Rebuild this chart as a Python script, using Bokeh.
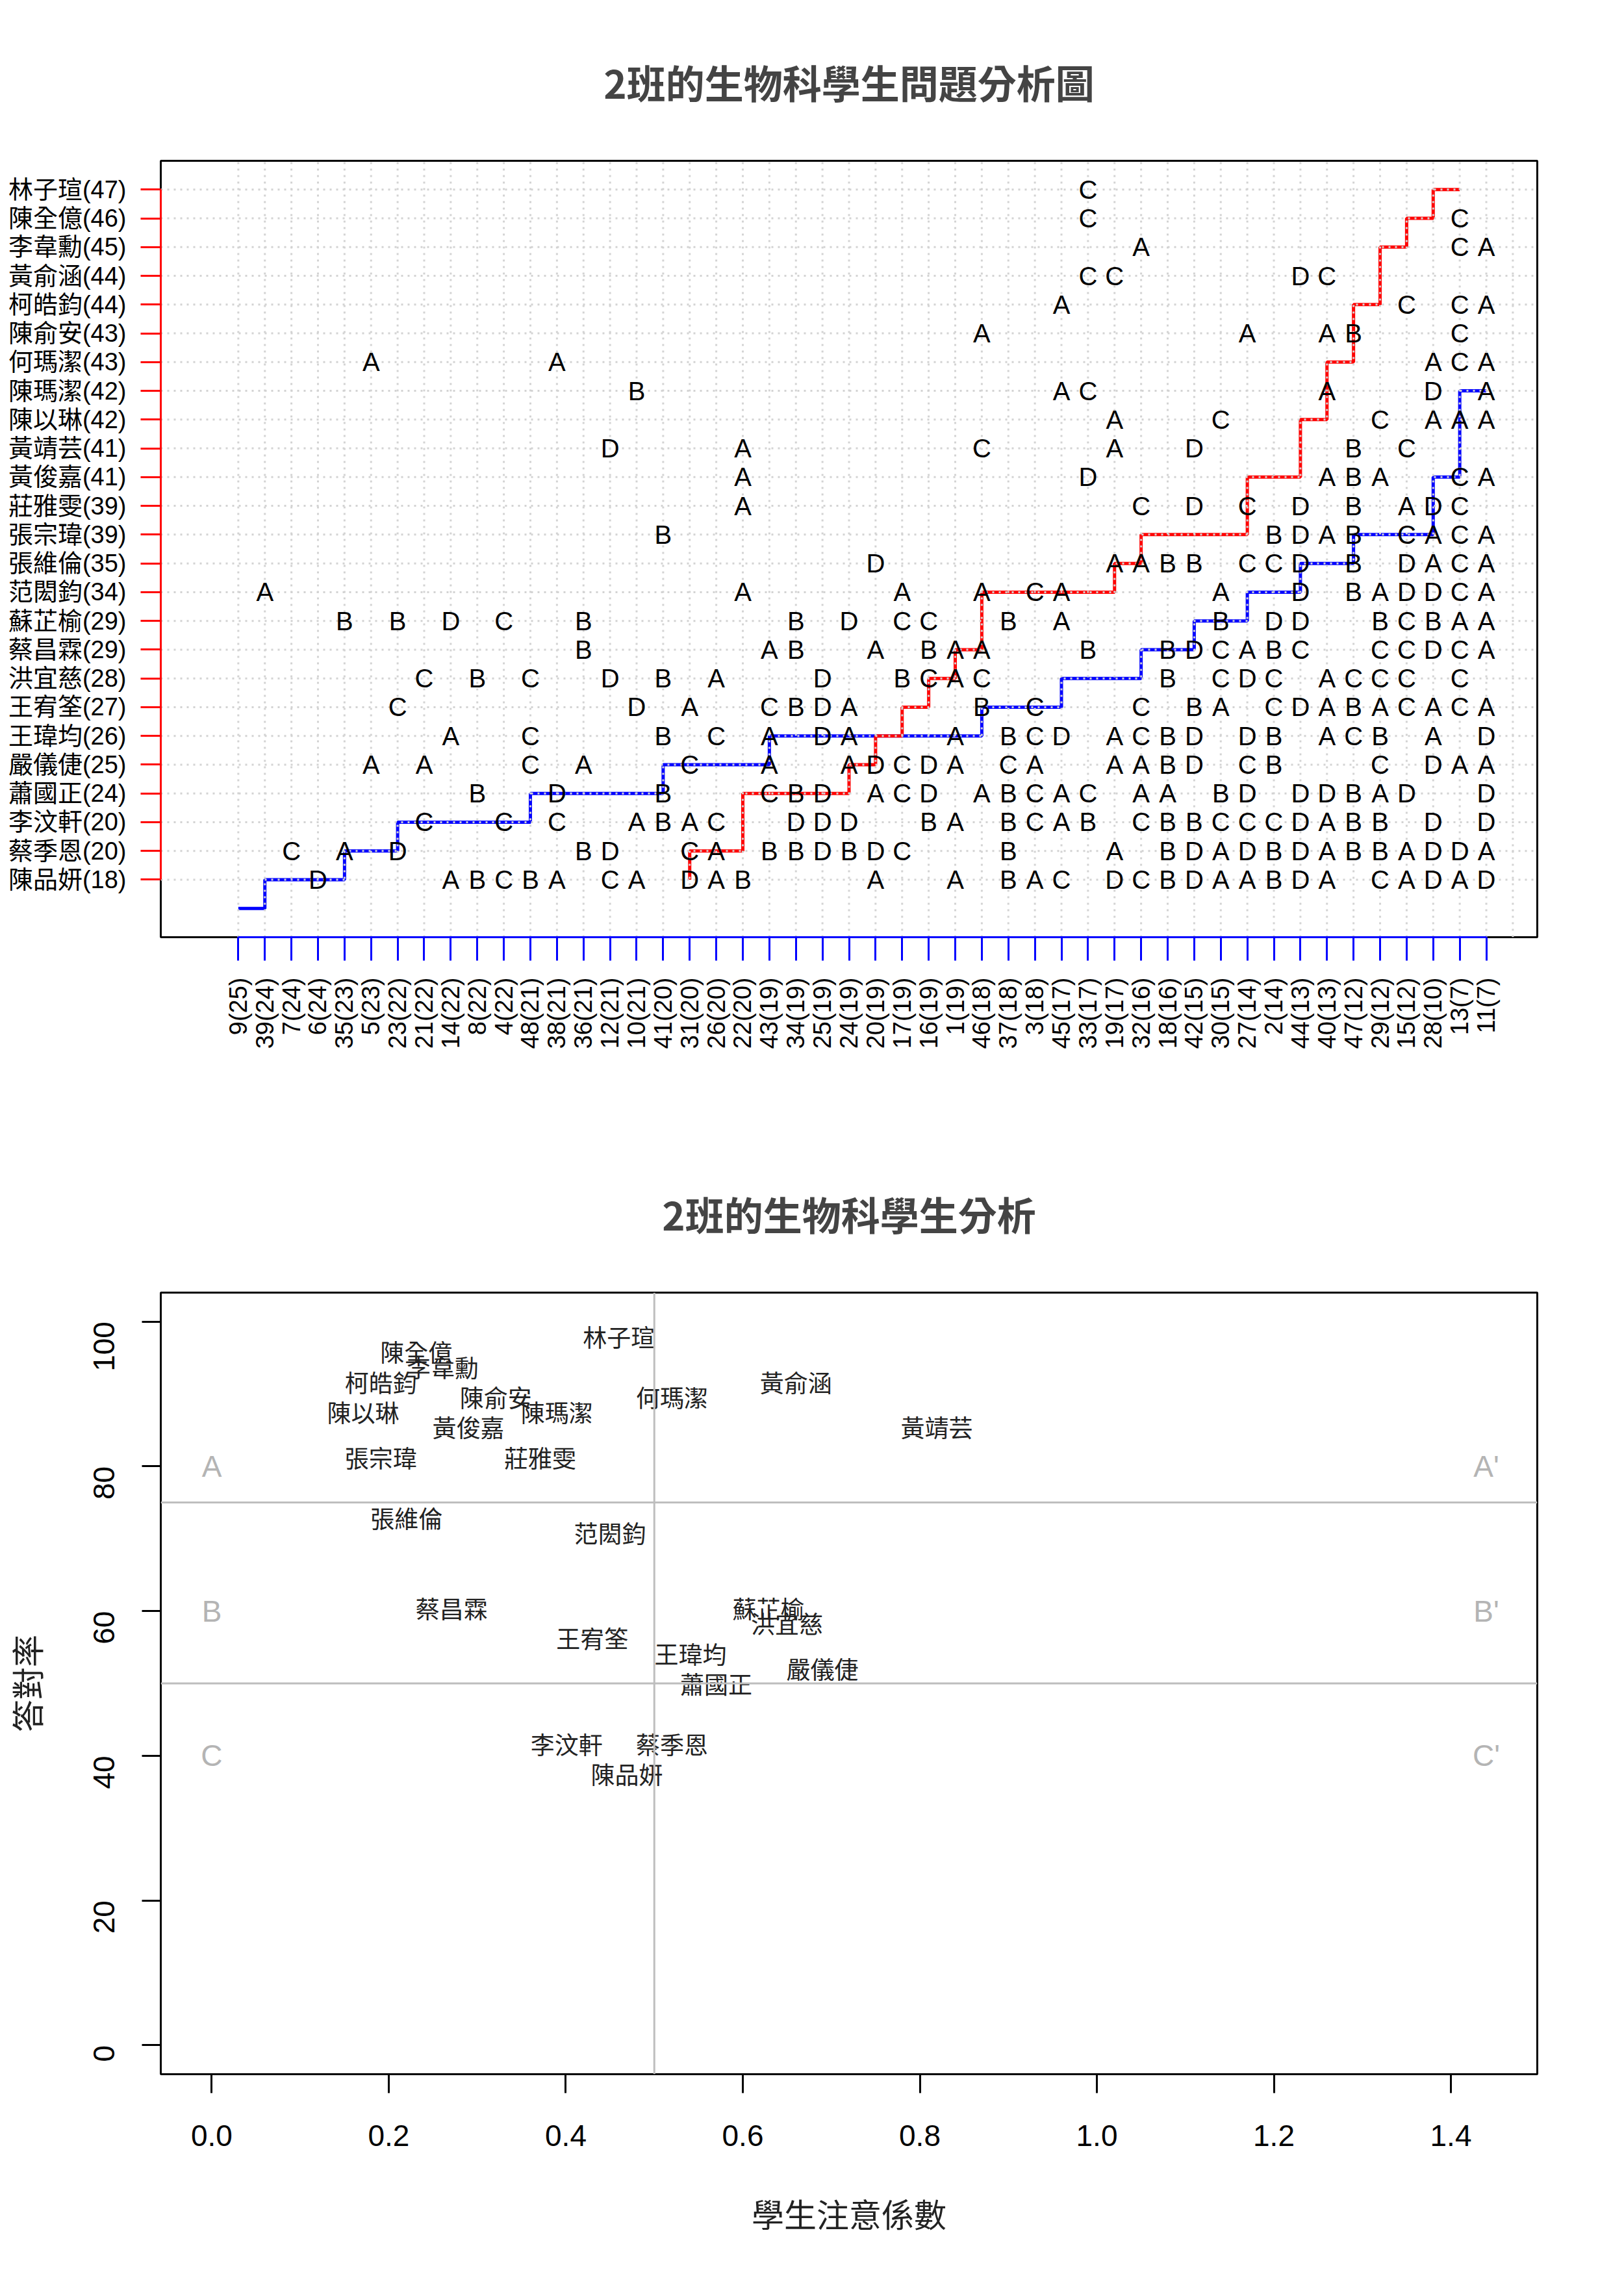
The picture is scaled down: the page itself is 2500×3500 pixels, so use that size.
import math
from bokeh.plotting import figure
from bokeh.layouts import column
from bokeh.models import FixedTicker, Range1d, Span, NumeralTickFormatter
from bokeh.core.properties import value
from bokeh.embed import file_html
from bokeh.resources import INLINE

# ---------------- data ----------------
# students, top row to bottom row of the S-P chart
students = ["林子瑄", "陳全億", "李韋勳", "黃俞涵", "柯皓鈞", "陳俞安", "何瑪潔", "陳瑪潔",
            "陳以琳", "黃靖芸", "黃俊嘉", "莊雅雯", "張宗瑋", "張維倫", "范閎鈞", "蘇芷榆",
            "蔡昌霖", "洪宜慈", "王宥筌", "王瑋均", "嚴儀倢", "蕭國正", "李汶軒", "蔡季恩", "陳品妍"]
scores = [47, 46, 45, 44, 44, 43, 43, 42, 42, 41, 41, 39, 39, 35, 34, 29, 29, 28, 27, 26, 25, 24, 20, 20, 18]

# wrong answers of each student: "<column><chosen option>"
wrong_answers = [
    "33C",
    "33C 47C",
    "35A 47C 48A",
    "33C 34C 41D 42C",
    "32A 45C 47C 48A",
    "29A 39A 42A 43B 47C",
    "6A 13A 46A 47C 48A",
    "16B 32A 33C 42A 46D 48A",
    "34A 38C 44C 46A 47A 48A",
    "15D 20A 29C 34A 37D 43B 45C",
    "20A 33D 42A 43B 44A 47C 48A",
    "20A 35C 37D 39C 41D 43B 45A 46D 47C",
    "17B 40B 41D 42A 43B 45C 46A 47C 48A",
    "25D 34A 35A 36B 37B 39C 40C 41D 43B 45D 46A 47C 48A",
    "2A 20A 26A 29A 31C 32A 38A 41D 43B 44A 45D 46D 47C 48A",
    "5B 7B 9D 11C 14B 22B 24D 26C 27C 30B 32A 38B 40D 41D 44B 45C 46B 47A 48A",
    "14B 21A 22B 25A 27B 28A 29A 33B 36B 37D 38C 39A 40B 41C 44C 45C 46D 47C 48A",
    "8C 10B 12C 15D 17B 19A 23D 26B 27C 28A 29C 36B 38C 39D 40C 42A 43C 44C 45C 47C",
    "7C 16D 18A 21C 22B 23D 24A 29B 31C 35C 37B 38A 40C 41D 42A 43B 44A 45C 46A 47C 48A",
    "9A 12C 17B 19C 21A 23D 24A 28A 30B 31C 32D 34A 35C 36B 37D 39D 40B 42A 43C 44B 46A 48D",
    "6A 8A 12C 14A 18C 21A 24A 25D 26C 27D 28A 30C 31A 34A 35A 36B 37D 39C 40B 44C 46D 47A 48A",
    "10B 13D 17B 21C 22B 23D 25A 26C 27D 29A 30B 31C 32A 33C 35A 36A 38B 39D 41D 42D 43B 44A 45D 48D",
    "8C 11C 13C 16A 17B 18A 19C 22D 23D 24D 27B 28A 30B 31C 32A 33B 35C 36B 37B 38C 39C 40C 41D 42A 43B 44B 46D 48D",
    "3C 5A 7D 14B 15D 18C 19A 21B 22B 23D 24B 25D 26C 30B 34A 36B 37D 38A 39D 40B 41D 42A 43B 44B 45A 46D 47D 48A",
    "4D 9A 10B 11C 12B 13A 15C 16A 18D 19A 20B 25A 28A 30B 31A 32C 34D 35C 36B 37D 38A 39A 40B 41D 42A 44C 45A 46D 47A 48D",
]

# items, left to right, with number of students answering correctly
item_ids = [9, 39, 7, 6, 35, 5, 23, 21, 14, 8, 4, 48, 38, 36, 12, 10, 41, 31, 26, 22, 43, 34, 25, 24,
            20, 17, 16, 1, 46, 37, 3, 45, 33, 19, 32, 18, 42, 30, 27, 2, 44, 40, 47, 29, 15, 28, 13, 11]
item_correct = [25, 24, 24, 24, 23, 23, 22, 22, 22, 22, 22, 21, 21, 21, 21, 21, 20, 20, 20, 20, 19, 19, 19, 19,
                19, 19, 19, 19, 18, 18, 18, 17, 17, 17, 16, 16, 15, 15, 14, 14, 13, 13, 12, 12, 12, 10, 7, 7]

# second chart: caution index (x) per student, same order as students
caution_index = [0.460, 0.231, 0.261, 0.660, 0.191, 0.321, 0.520, 0.390, 0.171, 0.819, 0.290, 0.371, 0.191,
                 0.220, 0.450, 0.629, 0.271, 0.650, 0.430, 0.541, 0.690, 0.570, 0.401, 0.520, 0.469]
zone_labels = ["A", "B", "C", "A'", "B'", "C'"]
zone_x = [0.0, 0.0, 0.0, 1.44, 1.44, 1.44]
zone_y = [80, 60, 40, 80, 60, 40]
rate_cuts = [75, 50]
caution_cut = 0.5
x_ticks2 = [0.0, 0.2, 0.4, 0.6, 0.8, 1.0, 1.2, 1.4]
y_ticks2 = [0, 20, 40, 60, 80, 100]

title1 = "2班的生物科學生問題分析圖"
title2 = "2班的生物科學生分析"
xlabel2 = "學生注意係數"
ylabel2 = "答對率"

CJK = "Noto Sans CJK TC"
LAT = "Liberation Sans"

n_st = len(students)
n_it = len(item_ids)
rows = [n_st - i for i in range(n_st)]  # top student on top row

# ---------------- figure 1: S-P chart ----------------
p1 = figure(width=2484, height=1742, output_backend="svg", toolbar_location=None,
            x_range=Range1d(-0.04 * n_it, n_it * 1.04), y_range=Range1d(-0.04 * n_st, n_st * 1.04),
            min_border_left=238, min_border_right=118, min_border_top=238, min_border_bottom=300)
p1.xgrid.visible = False
p1.ygrid.visible = False
p1.outline_line_color = "black"
p1.outline_line_width = 3
p1.background_fill_color = "white"

p1.title.text = title1
p1.title.align = "center"
p1.title.text_font = CJK
p1.title.text_font_size = "60px"
p1.title.text_font_style = "bold"
p1.title.standoff = 158

# S curve (students), step: horizontal then vertical
sx, sy = [scores[0]], [rows[0]]
for i in range(1, n_st):
    sx += [scores[i], scores[i]]
    sy += [rows[i - 1], rows[i]]
# P curve (items)
miss = [n_st - c for c in item_correct]
px, py = [1], [miss[0]]
for j in range(1, n_it):
    px += [j + 1, j + 1]
    py += [miss[j - 1], miss[j]]

p1.line(px, py, line_color="#0000FF", line_width=5)
p1.line(sx, sy, line_color="#FF0000", line_width=5)

# dotted grid drawn over the curves
gx = list(range(1, n_it + 2))
gy = list(range(1, n_st + 1))
yr0, yr1 = p1.y_range.start, p1.y_range.end
xr0, xr1 = p1.x_range.start, p1.x_range.end
p1.segment(x0=gx, y0=[yr0] * len(gx), x1=gx, y1=[yr1] * len(gx),
           line_color="#D3D3D3", line_width=3, line_dash="3 7")
p1.segment(x0=[xr0] * len(gy), y0=gy, x1=[xr1] * len(gy), y1=gy,
           line_color="#D3D3D3", line_width=3, line_dash="3 7")

# letters of wrong answers
lx, ly, lt = [], [], []
for i, s in enumerate(wrong_answers):
    for tok in s.split():
        lx.append(int(tok[:-1]))
        ly.append(rows[i])
        lt.append(tok[-1])
p1.text(x=lx, y=ly, text=lt, text_align="center", text_baseline="middle",
        text_font=value(LAT), text_font_size="40px", text_color="black")

# axes
p1.yaxis.ticker = FixedTicker(ticks=rows)
p1.yaxis.major_label_overrides = {rows[i]: f"{students[i]}({scores[i]})" for i in range(n_st)}
p1.yaxis.bounds = (1, n_st)
p1.yaxis.axis_line_color = "#FF0000"
p1.yaxis.axis_line_width = 3
p1.yaxis.major_tick_line_color = "#FF0000"
p1.yaxis.major_tick_line_width = 3
p1.yaxis.major_tick_out = 31
p1.yaxis.major_tick_in = 0
p1.yaxis.minor_tick_line_color = None
p1.yaxis.major_label_standoff = 22
p1.yaxis.major_label_text_font = LAT + ", " + CJK
p1.yaxis.major_label_text_font_size = "38px"
p1.yaxis.major_label_text_color = "black"

p1.xaxis.ticker = FixedTicker(ticks=list(range(1, n_it + 1)))
p1.xaxis.major_label_overrides = {j + 1: f"{item_ids[j]}({item_correct[j]})" for j in range(n_it)}
p1.xaxis.bounds = (1, n_it)
p1.xaxis.axis_line_color = "#0000FF"
p1.xaxis.axis_line_width = 3
p1.xaxis.major_tick_line_color = "#0000FF"
p1.xaxis.major_tick_line_width = 3
p1.xaxis.major_tick_out = 36
p1.xaxis.major_tick_in = 0
p1.xaxis.minor_tick_line_color = None
p1.xaxis.major_label_orientation = math.pi / 2
p1.xaxis.major_label_standoff = 26
p1.xaxis.major_label_text_font = LAT
p1.xaxis.major_label_text_font_size = "38px"
p1.xaxis.major_label_text_color = "black"

# ---------------- figure 2: caution index vs correct rate ----------------
n_items_total = n_it
rate = [s / n_items_total * 100 for s in scores]
xmax2 = zone_x[-1]
p2 = figure(width=2484, height=1742, output_backend="svg", toolbar_location=None,
            x_range=Range1d(-0.04 * xmax2, xmax2 * 1.04), y_range=Range1d(-4, 104),
            min_border_left=238, min_border_right=118, min_border_top=246, min_border_bottom=292)
p2.xgrid.visible = False
p2.ygrid.visible = False
p2.outline_line_color = "black"
p2.outline_line_width = 3

p2.title.text = title2
p2.title.align = "center"
p2.title.text_font = CJK
p2.title.text_font_size = "60px"
p2.title.text_font_style = "bold"
p2.title.standoff = 158

for v in rate_cuts:
    p2.add_layout(Span(location=v, dimension="width", line_color="#BEBEBE", line_width=3))
p2.add_layout(Span(location=caution_cut, dimension="height", line_color="#BEBEBE", line_width=3))

p2.text(x=zone_x, y=zone_y, text=zone_labels, text_align="center", text_baseline="middle",
        text_font=value(LAT), text_font_size="46px", text_color="#B4B4B4")
p2.text(x=caution_index, y=rate, text=students, text_align="center", text_baseline="middle",
        text_font=value(CJK), text_font_size="37px", text_color="#222222")

p2.xaxis.ticker = FixedTicker(ticks=x_ticks2)
p2.xaxis.formatter = NumeralTickFormatter(format="0.0")
p2.xaxis.bounds = (x_ticks2[0], x_ticks2[-1])
p2.yaxis.ticker = FixedTicker(ticks=y_ticks2)
p2.yaxis.bounds = (y_ticks2[0], y_ticks2[-1])
p2.yaxis.major_label_orientation = math.pi / 2
for ax in (p2.xaxis, p2.yaxis):
    ax.axis_line_color = "black"
    ax.axis_line_width = 3
    ax.major_tick_line_color = "black"
    ax.major_tick_line_width = 3
    ax.major_tick_out = 29
    ax.major_tick_in = 0
    ax.minor_tick_line_color = None
    ax.major_label_text_font = LAT
    ax.major_label_text_font_size = "46px"
    ax.major_label_text_color = "black"
    ax.axis_label_text_font = CJK
    ax.axis_label_text_font_size = "50px"
    ax.axis_label_text_font_style = "normal"
    ax.axis_label_text_color = "#222222"
p2.xaxis.major_label_standoff = 49
p2.yaxis.major_label_standoff = 58
p2.xaxis.axis_label = xlabel2
p2.yaxis.axis_label = ylabel2
p2.xaxis.axis_label_standoff = 64
p2.yaxis.axis_label_standoff = 50

layout = column(p1, p2)
open("out.html", "w").write(file_html(layout, INLINE))
